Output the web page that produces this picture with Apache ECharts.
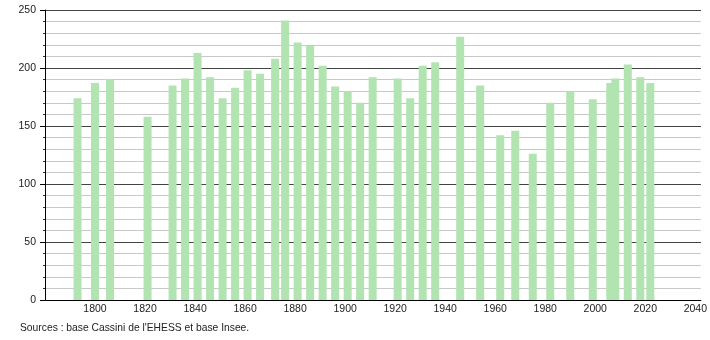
<!DOCTYPE html>
<html>
<head>
<meta charset="utf-8">
<script src="https://cdn.jsdelivr.net/npm/echarts@6/dist/echarts.min.js"></script>
<style>
html,body{margin:0;padding:0;background:#fff;}
#chart{width:710px;height:340px;}
</style>
</head>
<body>
<div id="chart"></div>
<script>
var years = [1793,1800,1806,1821,1831,1836,1841,1846,1851,1856,1861,1866,1872,1876,1881,1886,1891,1896,1901,1906,1911,1921,1926,1931,1936,1946,1954,1962,1968,1975,1982,1990,1999,2006,2008,2013,2018,2022];
var population = [174,187,190,158,185,191,213,192,174,183,198,195,208,241,222,219,202,184,180,170,192,191,174,202,205,227,185,142,146,126,170,180,173,187,191,203,192,187];
var xTickLabels = [1800,1820,1840,1860,1880,1900,1920,1940,1960,1980,2000,2020,2040];
var yTickLabels = [0,50,100,150,200,250];
var sourceText = "Sources : base Cassini de l'EHESS et base Insee.";

var data = years.map(function(y,i){return [y, population[i]];});
var font = "'Liberation Sans', Arial, sans-serif";

var chart = echarts.init(document.getElementById('chart'), null, {renderer:'canvas'});
chart.setOption({
  animation:false,
  backgroundColor:'#ffffff',
  grid:{left:45, right:9, top:10, bottom:40},
  xAxis:{
    type:'value', min:1780, max:2042.2, interval:20,
    axisLine:{show:true, lineStyle:{color:'#000', width:1}},
    axisTick:{show:false},
    splitLine:{show:false},
    axisLabel:{
      color:'#222', fontSize:10.5, fontFamily:font, margin:4,
      showMinLabel:true, showMaxLabel:true,
      formatter:function(v){return xTickLabels.indexOf(v) >= 0 ? String(v) : '';}
    }
  },
  yAxis:[
    {
      type:'value', min:0, max:250, interval:10,
      axisLine:{show:false},
      axisTick:{show:true, length:2, lineStyle:{color:'#333'}},
      axisLabel:{show:false},
      splitLine:{show:true, lineStyle:{color:['#333','#c8c8c8','#c8c8c8','#c8c8c8','#c8c8c8'], width:1}}
    },
    {
      type:'value', min:0, max:250, interval:50, position:'left',
      axisLine:{show:true, lineStyle:{color:'#000', width:1}},
      axisTick:{show:true, length:5, lineStyle:{color:'#000'}},
      axisLabel:{
        color:'#222', fontSize:10.5, fontFamily:font, margin:9,
        formatter:function(v){return yTickLabels.indexOf(v) >= 0 ? String(v) : '';}
      },
      splitLine:{show:true, lineStyle:{color:'#444', width:1}}
    }
  ],
  series:[{
    type:'bar', yAxisIndex:0, data:data, barWidth:8,
    itemStyle:{color:'#b1e4b1'},
    z:1
  }],
  graphic:[{
    type:'text', left:20, top:323,
    style:{text:sourceText, fill:'#222', fontSize:10.3, fontFamily:font}
  }]
});
</script>
</body>
</html>
